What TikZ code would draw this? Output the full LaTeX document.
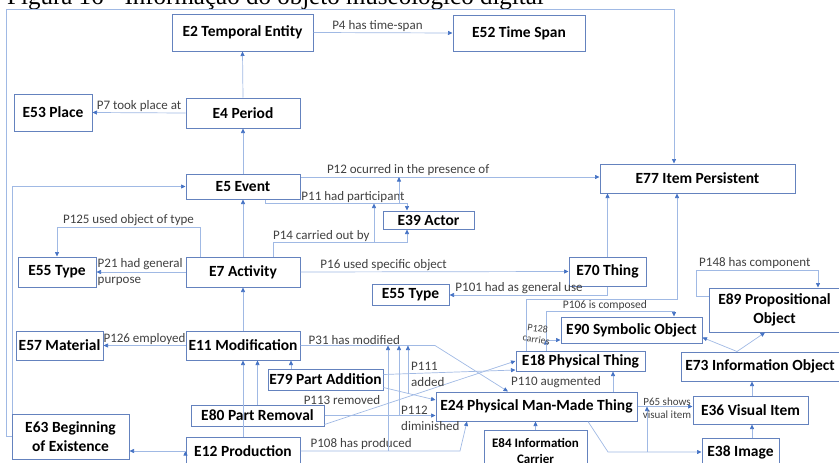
\documentclass[tikz,border=0pt]{standalone}
\usepackage{fontspec}
\setmainfont{Carlito}
\newfontfamily\captionfont{Liberation Serif}
\usetikzlibrary{arrows.meta, positioning}

\definecolor{boxc}{RGB}{100,130,190}
\definecolor{linec}{RGB}{160,185,228}
\definecolor{arrc}{RGB}{68,114,196}
\definecolor{lblc}{RGB}{64,64,64}

\tikzset{
  ent/.style={draw=boxc, line width=1pt, font=\bfseries\fontsize{15.5}{19}\selectfont, align=center, inner sep=0pt},
  sz/.style 2 args={minimum width=#1pt, minimum height=#2pt},
  rel/.style={draw=linec, line width=0.7pt, -{Triangle[length=4.5pt,width=4pt,color=arrc]}},
  lbl/.style={font=\fontsize{13}{16}\selectfont, text=lblc, inner sep=1pt},
}

\begin{document}
\begin{tikzpicture}[x=1pt, y=-1pt]
	\useasboundingbox (0,0) rectangle (839,463);
	\node[anchor=base west, inner sep=0pt, font=\captionfont\fontsize{25}{30}\selectfont] (title) at (7,5) {Figura 16 - Informação do objeto museológico digital};

	% classes
	\node[ent, sz={141}{37}] (E2) at (242.5,32.5) {E2 Temporal Entity};
	\node[ent, sz={132}{36}] (E52) at (519,33) {E52 Time Span};
	\node[ent, sz={78}{37}] (E53) at (53,112.5) {E53 Place};
	\node[ent, sz={114}{30}] (E4) at (243,113) {E4 Period};
	\node[ent, sz={114}{25}] (E5) at (243,186.5) {E5 Event};
	\node[ent, sz={91}{18}] (E39) at (428.5,220) {E39 Actor};
	\node[ent, sz={195}{29}] (E77) at (697.5,178.5) {E77 Item Persistent};
	\node[ent, sz={78}{30}] (E55) at (57,272) {E55 Type};
	\node[ent, sz={114}{30}] (E7) at (243,272) {E7 Activity};
	\node[ent, sz={77}{29}] (E70) at (607.5,271.5) {E70 Thing};
	\node[ent, sz={77}{21}] (E55b) at (410.5,295) {E55 Type};
	\node[ent, sz={131}{44}] (E89) at (774.5,310) {E89 Propositional\\Object};
	\node[ent, sz={141}{26}] (E90) at (631.5,330) {E90 Symbolic Object};
	\node[ent, sz={87}{29}] (E57) at (59.5,345.5) {E57 Material};
	\node[ent, sz={114}{29}] (E11) at (243,345.5) {E11 Modification};
	\node[ent, sz={129}{20}] (E18) at (580.5,361) {E18 Physical Thing};
	\node[ent, sz={158}{29}] (E73) at (760,366.5) {E73 Information Object};
	\node[ent, sz={115}{21}] (E79) at (325.5,379.5) {E79 Part Addition};
	\node[ent, sz={201}{29}] (E24) at (536.5,406.5) {E24 Physical Man-Made Thing};
	\node[ent, sz={115}{28}] (E36) at (750.5,410) {E36 Visual Item};
	\node[ent, sz={133}{21}] (E80) at (257.5,415.5) {E80 Part Removal};
	\node[ent, sz={117}{45}] (E63) at (70.5,436.5) {E63 Beginning\\of Existence};
	\node[ent, sz={114}{28}] (E12) at (243,451) {E12 Production};
	\node[ent, sz={103}{42}, font=\bfseries\fontsize{13}{16}\selectfont] (E84) at (535.5,451) {E84 Information\\Carrier};
	\node[ent, sz={77}{28}] (E38) at (740.5,452) {E38 Image};

	% x positions of the bends
	\foreach \x in {200,265,273,291,374,388,399,407,435,460,467,508,526,546,588,608,613,647,674,677,737,752,765,818}
		\coordinate (a\x) at (\x,0);
	\coordinate (p128) at ([yshift=-10pt]E90.west);

	% subclasses
	\path[rel]
		(E4.north) edge (E2.south)
		(E5.north) edge (E4.south)
		(E7.north) edge (E5.south)
		(E11.north) edge (E7.south)
		(E12.north) edge (E11.south)
		(E80.north) edge (E80.north |- E11.south)
		(a291 |- E79.north) edge (a291 |- E11.south)
		(E70.north) edge (E70.north |- E77.south)
		(a613 |- E24.north) edge (a613 |- E18.south)
		(E84.north) edge (E84.north |- E24.south)
		(a752 |- E36.north) edge (a752 |- E73.south)
		(a752 |- E38.north) edge (a752 |- E36.south)
		(E12.west) edge (E12.west -| E63.east);
	\draw[rel] ([xshift=1pt]E63.north west) |- (E5.west);
	\draw[rel] (E63.west) -- ++(-5,0) -- ++(0,-427) -| (a674 |- E77.north);
	\draw[rel] (a526 |- E18.north) -- ++(0,-51) -| (a677 |- E77.south);
	\draw[rel] (a737 |- E73.north) -- ([yshift=6pt]E90.south east);
	\draw[rel] (a737 |- E73.north) -- (a765 |- E89.south);
	\draw[rel] (a588 |- E24.south) -- (a608 |- E38.west) -- (E38.west);

	% properties
	\path[rel]
		(E2.east) edge node[lbl, above, pos=0.46] {P4 has time-span} (E52.west)
		(E4.west) edge node[lbl, above] {P7 took place at} (E53.east)
		(E7.west) edge (E55.east)
		(E7.east) edge node[lbl, above, pos=0.31] {P16 used specific object} (E70.west)
		(E11.west) edge node[lbl, above] {P126 employed} (E57.east)
		(E24.east) edge (E24.east -| E36.west)
		(E80.east) edge (E80.east -| E24.west)
		([yshift=5pt]E79.east) edge ([yshift=-9pt]E18.west)
		([yshift=2pt]E80.south east) edge (E18.west)
		(a546 |- p128) edge (p128);
	\node[lbl, anchor=west, align=left] (l21) at (E55.east) {P21 had general\\purpose};
	\draw[rel] (a200 |- E7.north) -- ++(0,-29) -| node[lbl, above, pos=0.25] {P125 used object of type} (E55.north);
	\draw[rel] ([yshift=9.5pt]E5.east) coordinate (p12) -- node[lbl, above, pos=0.36] {P12 ocurred in the presence of} ([yshift=1.5pt]E77.west);
	\draw[rel] (a265 |- E5.south) -- ++(0,4) coordinate (p11) -| node[lbl, above, pos=0.31] {P11 had participant} (a407 |- E39.north);
	\draw[rel] (a273 |- E7.north) -- ++(0,-14) coordinate (p14) -| node[lbl, above, pos=0.18] {P14 carried out by} (a407 |- E39.south);
	\draw[rel] (a399 |- p11) -- (a399 |- p12);
	\draw[rel] (a374 |- p14) -- (a374 |- p11);
	\draw[rel] (E70.south) |- node[lbl, above, pos=0.78] {P101 had as general use} (E55b.east);
	\draw[rel] (a546 |- E18.north) -- ++(0,-39) -| node[lbl, above, pos=0.23, font=\fontsize{11.5}{13}\selectfont] {P106 is composed} (a674 |- E90.north);
	\node[lbl, font=\fontsize{10}{11}\selectfont, rotate=-8, align=center] (l128) at (537,334) {P128\\carries};
	\draw[rel] ([yshift=14pt]E89.west) -- ++(-12,0) -- ++(0,-26) -| node[lbl, above, pos=0.24] {P148 has component} (a818 |- E89.north);
	\draw[rel] (E11.east) -- node[lbl, above, pos=0.4] {P31 has modified} (a435 |- E11.east) -- (a508 |- E24.north);
	\draw[rel] ([yshift=3pt]E79.south east) -- node[pos=0.47, coordinate] (p110) {} ([yshift=6.5pt]E24.west);
	\draw[rel] (E12.east) -- node[lbl, above, pos=0.38] {P108 has produced} (a460 |- E12.east) -- (a467 |- E24.south);
	\draw[rel] (a388 |- E12.east) -- (a388 |- E11.east);
	\draw[rel] (a399 |- E80.east) -- (a399 |- E11.east);
	\draw[rel] (p110) -- (p110 |- E11.east);
	\draw[rel] (a647 |- E38.west) -- (a647 |- E24.east);
	\node[lbl, anchor=west, align=left] (l111) at (410,374) {P111\\added};
	\node[lbl, anchor=west, align=left] (l112) at (400,418.5) {P112\\diminished};
	\node[lbl] (l113) at (342,400) {P113 removed};
	\node[lbl] (l110) at (556,382) {P110 augmented};
	\node[lbl, font=\fontsize{11}{13}\selectfont, align=center] (l65) at (667,408) {P65 shows\\visual item};
\end{tikzpicture}
\end{document}
